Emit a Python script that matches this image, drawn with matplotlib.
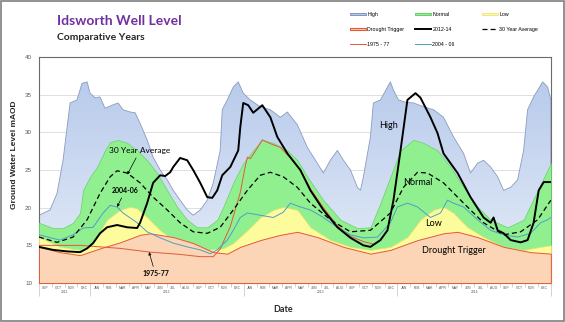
import matplotlib
matplotlib.use('Agg')
import matplotlib.pyplot as plt
import matplotlib.transforms as mtransforms
from matplotlib.colors import LinearSegmentedColormap
from matplotlib.patches import Patch, Rectangle
from matplotlib.lines import Line2D
import numpy as np

# x positions are months counted from the start of SEP (first year on the axis)
high_m = [0.0, 0.86, 1.41, 1.88, 2.43, 2.97, 3.36, 3.76, 3.99, 4.38, 4.77, 5.16, 5.71, 6.18, 6.57,
          7.12, 7.51, 7.90, 8.45, 8.92, 9.47, 10.02, 10.49, 11.03, 11.58, 12.05, 12.60, 13.15, 13.62,
          14.16, 14.32, 14.71, 15.18, 15.57, 15.96, 16.51, 17.29, 18.08, 18.86, 19.41, 20.19, 20.97,
          21.75, 22.22, 22.77, 23.32, 23.79, 24.34, 24.88, 25.12, 25.35, 25.90, 26.13, 26.68, 27.23,
          27.46, 27.70, 28.09, 28.64, 29.26, 30.05, 30.83, 31.61, 32.39, 33.18, 33.72, 34.27, 34.74,
          35.29, 35.84, 36.31, 36.86, 37.40, 37.87, 38.18, 38.65, 39.36, 39.75, 40.0]
high_v = [19.0, 19.7, 21.9, 26.3, 33.9, 34.3, 36.5, 36.7, 35.2, 34.6, 34.7, 33.2, 33.6, 33.9, 33.0,
          32.7, 32.6, 31.2, 29.0, 26.7, 25.0, 23.7, 22.3, 21.0, 19.7, 19.0, 19.7, 21.0, 23.3,
          27.6, 33.0, 34.3, 36.0, 36.7, 35.2, 34.3, 33.4, 33.0, 32.0, 32.7, 31.0, 28.0,
          25.9, 24.6, 26.3, 27.6, 26.3, 25.0, 22.7, 22.3, 24.1, 29.4, 33.9, 34.3, 36.0,
          36.7, 35.6, 34.3, 34.0, 33.9, 33.4, 33.0, 32.0, 29.4, 27.2, 24.6, 25.9, 26.3,
          25.4, 24.1, 22.3, 22.7, 23.7, 27.6, 33.0, 34.7, 36.7, 36.0, 34.3]

normal_m = [0.0, 1.10, 1.88, 2.66, 3.21, 3.44, 3.99, 4.54, 5.16, 5.56, 6.18, 6.89, 7.67, 8.45, 9.23,
            10.02, 10.80, 11.58, 12.36, 13.15, 13.93, 14.40, 15.18, 15.96, 16.74, 17.45, 18.31, 19.41,
            20.19, 20.97, 22.22, 23.55, 24.88, 25.90, 26.68, 27.46, 28.25, 29.26, 30.05, 31.14, 32.16,
            33.18, 34.27, 35.29, 36.62, 37.87, 38.97, 40.0]
normal_v = [18.0, 17.3, 17.3, 18.0, 19.3, 22.3, 24.1, 25.4, 27.6, 28.7, 29.0, 28.6, 27.6, 26.3, 24.6,
            22.3, 20.1, 18.4, 17.4, 17.4, 18.4, 20.1, 23.3, 25.9, 27.6, 29.0, 28.6, 27.6,
            26.3, 24.1, 21.0, 18.4, 17.3, 17.4, 20.6, 24.1, 27.6, 29.0, 28.6, 27.6, 25.4,
            22.7, 20.1, 18.4, 17.4, 18.4, 22.3, 25.9]

low_m = [0.0, 1.64, 3.21, 4.23, 5.32, 6.34, 7.12, 7.67, 8.45, 9.47, 10.49, 11.82, 13.15, 14.40, 15.18,
         16.28, 17.29, 18.31, 19.09, 20.19, 21.21, 22.77, 24.34, 25.90, 27.46, 28.79, 29.81, 30.83,
         31.61, 32.39, 33.49, 34.74, 36.31, 37.87, 39.20, 40.0]
low_v = [16.1, 14.8, 14.4, 15.3, 18.4, 19.7, 20.1, 19.9, 18.7, 17.0, 15.7, 14.8, 14.4, 14.6, 15.3,
         17.0, 18.7, 19.7, 20.1, 19.7, 17.4, 15.7, 14.8, 14.4, 14.8, 16.1, 18.4, 19.7,
         20.1, 19.3, 17.4, 16.1, 14.8, 14.4, 14.8, 15.0]

drought_m = [0.0, 1.64, 3.21, 4.77, 6.34, 7.90, 8.69, 10.49, 12.05, 13.62, 14.71, 15.73, 17.29, 18.86,
             20.19, 21.75, 23.79, 25.90, 27.46, 29.58, 31.61, 32.71, 34.27, 36.31, 38.42, 40.0]
drought_v = [14.8, 14.1, 13.7, 14.6, 15.4, 16.4, 16.6, 16.1, 15.3, 14.1, 13.9, 14.8, 15.7, 16.4,
             16.8, 16.1, 14.8, 13.9, 14.4, 15.7, 16.6, 16.8, 16.1, 14.8, 14.1, 13.9]

avg_m = [0.0, 1.41, 2.66, 3.76, 4.77, 5.56, 6.10, 6.89, 7.90, 8.92, 10.02, 11.03, 12.05, 13.15, 14.16,
         15.18, 16.28, 17.29, 18.08, 19.09, 20.19, 21.21, 22.77, 24.34, 25.90, 27.46, 28.48, 29.58,
         30.36, 31.61, 33.18, 34.74, 36.31, 37.64, 38.97, 40.0]
avg_v = [16.1, 15.4, 16.1, 18.4, 21.9, 24.1, 24.9, 24.6, 23.3, 21.4, 19.7, 18.0, 16.8, 16.6, 17.4,
         19.7, 22.3, 24.3, 24.7, 24.1, 22.7, 20.6, 18.4, 16.8, 17.0, 19.3, 22.7, 24.7,
         24.6, 23.3, 20.6, 18.0, 16.4, 16.8, 18.4, 21.0]

y1214_m = [0.0, 1.10, 2.19, 3.21, 3.76, 4.23, 4.77, 5.32, 6.10, 6.89, 7.67, 7.90, 8.45, 8.92, 9.47,
           9.86, 10.25, 10.49, 11.03, 11.58, 12.05, 12.60, 13.15, 13.54, 13.93, 14.32, 14.95, 15.57,
           15.73, 15.96, 16.35, 16.74, 17.45, 18.08, 18.62, 19.41, 20.42, 21.21, 22.22, 23.32, 24.34,
           25.35, 25.90, 26.68, 27.23, 27.70, 28.25, 28.79, 29.42, 29.81, 30.59, 31.14, 31.61, 32.71,
           33.72, 34.74, 35.29, 35.52, 35.84, 36.31, 36.86, 37.64, 38.18, 38.65, 39.05, 39.44, 40.0]
y1214_v = [14.8, 14.4, 14.2, 14.1, 14.6, 15.3, 16.6, 17.4, 17.7, 17.4, 17.3, 18.0, 20.6, 23.3, 24.3,
           24.2, 24.7, 25.4, 26.6, 26.3, 25.0, 23.3, 21.4, 21.3, 22.3, 24.3, 25.4, 27.6,
           30.7, 33.9, 33.6, 32.6, 33.6, 32.0, 29.4, 27.2, 25.0, 22.3, 19.7, 17.4, 16.0,
           15.0, 14.8, 15.7, 17.0, 21.0, 27.6, 34.3, 35.2, 34.6, 32.0, 29.9, 27.2, 24.6,
           21.4, 18.7, 18.0, 18.7, 17.0, 16.6, 15.7, 15.4, 15.7, 18.0, 22.3, 23.4, 23.4]

y7577_m = [0.0, 3.21, 6.34, 8.69, 11.03, 12.60, 13.62, 14.16, 14.95, 15.73, 16.12, 16.28, 16.51, 16.90,
           17.45, 18.08, 18.86, 19.64, 20.42, 21.21, 22.22, 23.32, 24.34, 25.35, 26.06]
y7577_v = [15.0, 15.0, 14.6, 14.1, 13.8, 13.5, 13.5, 14.5, 17.5, 22.0, 25.5, 26.7, 26.5, 27.5,
           29.0, 28.5, 28.0, 26.6, 25.0, 22.5, 20.0, 17.6, 16.2, 15.5, 15.2]

y0406_m = [0.0, 1.64, 2.66, 3.44, 4.23, 5.01, 5.56, 6.10, 6.57, 7.67, 8.45, 9.47, 10.49, 11.58, 12.60,
           13.38, 13.93, 14.71, 15.18, 15.73, 16.28, 17.29, 18.31, 19.09, 19.64, 20.42, 21.21, 22.22,
           23.32, 24.34, 25.35, 26.45, 27.46, 28.01, 28.79, 29.58, 30.59, 31.38, 31.92, 32.39, 33.18,
           34.27, 35.29, 36.31, 37.40, 38.42, 39.20, 39.75, 40.0]
y0406_v = [16.4, 15.7, 16.4, 17.3, 17.4, 19.3, 20.3, 20.1, 19.3, 18.0, 16.8, 16.0, 15.3, 14.8, 14.4,
           13.9, 14.4, 15.7, 17.0, 18.7, 19.3, 19.0, 18.7, 19.4, 20.6, 20.1, 19.7, 18.7,
           17.4, 16.4, 16.0, 16.1, 18.0, 20.1, 20.6, 20.1, 18.7, 19.3, 21.0, 20.6, 20.1,
           18.4, 17.0, 16.4, 16.1, 16.6, 18.0, 18.4, 18.7]

month_names = ['SEP', 'OCT', 'NOV', 'DEC'] + ['JAN', 'FEB', 'MAR', 'APR', 'MAY', 'JUN', 'JUL', 'AUG',
                                             'SEP', 'OCT', 'NOV', 'DEC'] * 3
years = ['2011', '2012', '2013', '2014']
year_mid = [2, 10, 22, 34]
year_edges = [0, 4, 16, 28, 40]

HIGH_EDGE = '#8a9cbc'
GREEN = '#90f090'
YELLOW = '#fcfc9c'
PEACH = '#fbd5b5'
RED = '#e4583a'
TEAL = '#4f9ec4'

fig = plt.figure(figsize=(5.65, 3.22), dpi=100)
ax = fig.add_axes([0.069, 0.121, 0.906, 0.702])

# stacked bands, each filled from the axis floor, back to front
hi = ax.fill_between(high_m, 10, high_v, facecolor='none', edgecolor=HIGH_EDGE, lw=0.6, zorder=2)
cmap = LinearSegmentedColormap.from_list('hb', ['#e6edf8', '#b3c7ea'])
grad = np.linspace(1, 0, 256).reshape(-1, 1)
im = ax.imshow(grad, extent=[0, 40, 10, 40], aspect='auto', cmap=cmap, zorder=1)
im.set_clip_path(hi.get_paths()[0], transform=ax.transData)

ax.fill_between(normal_m, 10, normal_v, facecolor=GREEN, edgecolor='#6ad06a', lw=0.5, zorder=3)
ax.fill_between(low_m, 10, low_v, facecolor=YELLOW, edgecolor='#f2e070', lw=0.5, zorder=4)
ax.fill_between(drought_m, 10, drought_v, facecolor=PEACH, edgecolor=RED, lw=0.7, zorder=5)

ax.plot(y7577_m, y7577_v, color=RED, lw=0.7, zorder=6)
ax.plot(y0406_m, y0406_v, color=TEAL, lw=0.7, zorder=6)
ax.plot(avg_m, avg_v, color='black', lw=0.9, ls=(0, (4, 2.5)), zorder=7)
ax.plot(y1214_m, y1214_v, color='black', lw=1.4, zorder=8)

ax.set_xlim(0, 40)
ax.set_ylim(10, 40)
ax.set_yticks(np.arange(10, 41, 5))
ax.yaxis.grid(True, color='#d9d9d9', lw=0.6)
ax.set_axisbelow(True)
ax.tick_params(axis='y', length=0, labelsize=4.5, labelcolor='#595959', pad=5)
for lab in ax.get_yticklabels():
    lab.set_family('Liberation Sans')
for s in ax.spines.values():
    s.set_color('#6b6b6b')
    s.set_linewidth(0.8)

ax.set_xticks(year_edges)
ax.set_xticks(np.arange(0, 41), minor=True)
ax.set_xticklabels([])
ax.tick_params(axis='x', which='major', length=9, width=0.4, color='#b0b0b0')
ax.tick_params(axis='x', which='minor', length=3, width=0.4, color='#b0b0b0')
trans = mtransforms.blended_transform_factory(ax.transData, ax.transAxes)
for i, name in enumerate(month_names):
    ax.text(i + 0.5, -0.011, name, transform=trans, fontsize=2.4, ha='center', va='top',
            color='#595959', family='Liberation Sans')
for pos, yr in zip(year_mid, years):
    ax.text(pos, -0.033, yr, transform=trans, fontsize=2.4, ha='center', va='top',
            color='#595959', family='Liberation Sans')

# labels on the chart
ax.annotate('30 Year Average', xy=(6.9, 24.4), xytext=(7.9, 27.6), fontsize=6, family='Lato',
            ha='center', va='center', zorder=10,
            arrowprops=dict(arrowstyle='-|>', color='black', lw=0.5, mutation_scale=4, shrinkA=1, shrinkB=0))
ax.annotate('2004-06', xy=(6.1, 20.1), xytext=(6.75, 22.3), fontsize=5, family='Lato', fontweight='bold',
            ha='center', va='center', zorder=10,
            arrowprops=dict(arrowstyle='-|>', color='black', lw=0.5, mutation_scale=4, shrinkA=1, shrinkB=0))
ax.annotate('1975-77', xy=(8.6, 14.1), xytext=(9.1, 11.2), fontsize=5, family='Lato', fontweight='bold',
            ha='center', va='center', zorder=10,
            arrowprops=dict(arrowstyle='-|>', color='black', lw=0.5, mutation_scale=4, shrinkA=1, shrinkB=0))
ax.text(27.3, 30.9, 'High', fontsize=6.5, family='Lato', ha='center', va='center', zorder=10)
ax.text(29.6, 23.4, 'Normal', fontsize=6.5, family='Lato', ha='center', va='center', zorder=10)
ax.text(30.8, 17.9, 'Low', fontsize=6.5, family='Lato', ha='center', va='center', zorder=10)
ax.text(32.4, 14.3, 'Drought Trigger', fontsize=6.5, family='Lato', ha='center', va='center', zorder=10)

# titles and axis titles
fig.text(57 / 565, 1 - 21 / 322, 'Idsworth Well Level', color='#7030a0', fontsize=10,
         fontweight='bold', family='Lato', va='center')
fig.text(57 / 565, 1 - 37 / 322, 'Comparative Years', color='#262626', fontsize=7.5,
         fontweight='bold', family='Lato', va='center')
fig.text(15 / 565, 1 - 155 / 322, 'Ground Water Level mAOD', rotation=90, fontsize=6,
         fontweight='bold', family='Liberation Sans', ha='center', va='center', color='#262626')
fig.text(283 / 565, 1 - 309 / 322, 'Date', fontsize=6.5, fontweight='bold', family='Lato',
         ha='center', va='center', color='#262626')

# legend, three columns like the original
h_high = Patch(facecolor='#b9cbea', edgecolor='#7088b5', lw=0.6)
h_normal = Patch(facecolor=GREEN, edgecolor='#5cc45c', lw=0.6)
h_low = Patch(facecolor=YELLOW, edgecolor='#f0e080', lw=0.6)
h_drought = Patch(facecolor=PEACH, edgecolor=RED, lw=0.8)
h_1214 = Line2D([], [], color='black', lw=1.4)
h_avg = Line2D([], [], color='black', lw=0.9, ls=(0, (4, 2.5)))
h_7577 = Line2D([], [], color=RED, lw=0.7)
h_0406 = Line2D([], [], color=TEAL, lw=0.7)
legend_cols = [
    ([h_high, h_drought, h_7577], ['High', 'Drought Trigger', '1975 - 77'], 350),
    ([h_normal, h_1214, h_0406], ['Normal', '2012-14', '2004 - 06'], 415),
    ([h_low, h_avg], ['Low', '30 Year Average'], 482),
]
for handles, labels, px in legend_cols:
    fig.legend(handles, labels, loc='upper left', bbox_to_anchor=(px / 565, 1 - 12 / 322),
               frameon=False, prop={'family': 'Liberation Sans', 'size': 3.8},
               handlelength=3.0, handleheight=0.4, handletextpad=0.3, labelspacing=1.9,
               borderpad=0, borderaxespad=0)

fig.patches.append(Rectangle((0.002, 0.003), 0.996, 0.994, transform=fig.transFigure,
                             fill=False, edgecolor='#7f7f7f', lw=1.2))

fig.savefig('out.png', dpi=100)
